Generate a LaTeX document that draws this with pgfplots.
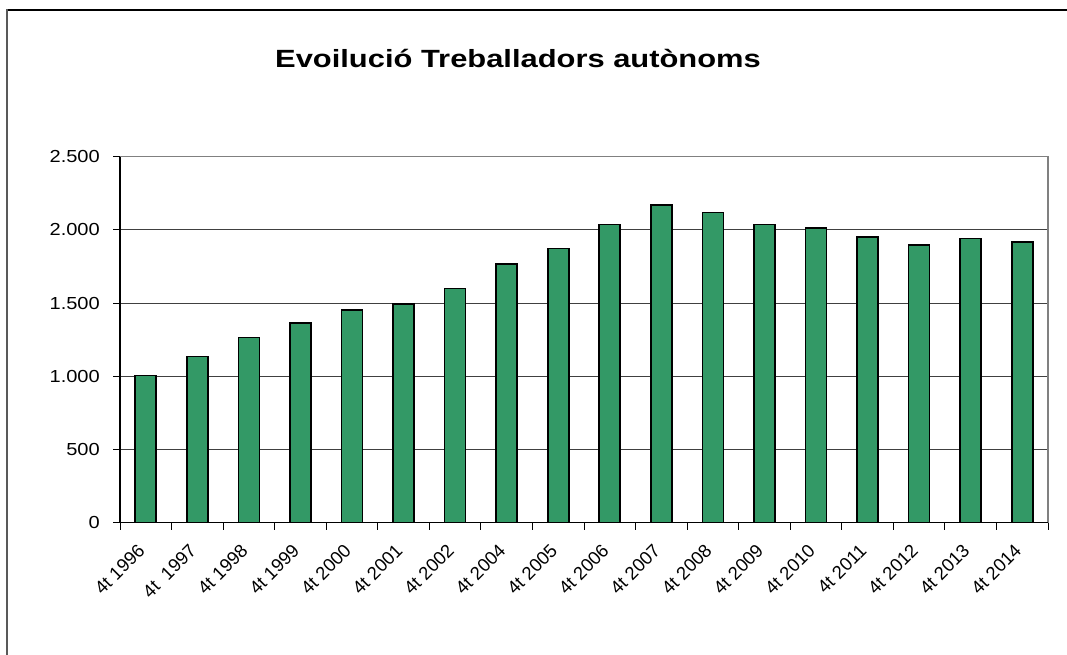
\documentclass[border=0pt]{standalone}
\usepackage{fontspec}
\setmainfont{Liberation Sans}
\newfontfamily\widefont{Liberation Sans}[FakeStretch=1.15]
\newfontfamily\titlefont{Liberation Sans}[FakeStretch=1.24]
\usepackage{pgfplots}
\pgfplotsset{compat=1.18}
\definecolor{barg}{HTML}{339966}
\begin{document}
\begin{tikzpicture}[x=1bp,y=1bp]
\path[use as bounding box] (0,0) rectangle (1067,655);
\draw[line width=1.3bp, black] (6.5,645) -- (1067,645);
\draw[line width=1.6bp, black!65] (7,645.6) -- (7,0);
\node[anchor=base, font=\titlefont\bfseries\fontsize{25}{30}\selectfont, inner sep=0pt] at (518,587) {Evoilució Treballadors autònoms};
\begin{axis}[
  at={(120bp,132.3bp)}, anchor=south west,
  scale only axis, width=928bp, height=366bp,
  xmin=-0.5, xmax=17.5, ymin=0, ymax=2500,
  ytick={0,500,...,2500},
  xtick={0,...,17},
  xticklabels={4t 1996,4t~~1997,4t 1998,4t 1999,4t 2000,4t 2001,4t 2002,4t 2004,4t 2005,4t 2006,4t 2007,4t 2008,4t 2009,4t 2010,4t 2011,4t 2012,4t 2013,4t 2014},
  minor xtick={-0.5,0.5,...,17.5},
  major x tick style={draw=none},
  minor tick length=7bp,
  major tick length=7bp,
  tick align=outside,
  xtick pos=bottom, ytick pos=left,
  tick style={black, line width=1bp},
  axis line style={draw=none},
  ymajorgrids,
  major grid style={black!75, line width=1bp},
  /pgf/number format/assume math mode=true,
  /pgf/number format/.cd, 1000 sep={.},
  /pgfplots/.cd,
  yticklabel style={font=\widefont\fontsize{17.5}{20}\selectfont, inner sep=0pt, xshift=-13bp},
  xticklabel shift=13bp,
  xticklabel style={font=\fontsize{18.5}{21}\selectfont, rotate=45, anchor=north east, inner sep=0pt, xshift=-6.4bp, yshift=6.4bp},
  clip=false,
]
\addplot[ybar, bar width=21bp, fill=barg, draw=black, line width=1.6bp] coordinates {
(0,1005) (1,1134) (2,1266) (3,1366) (4,1453) (5,1494) (6,1601) (7,1767) (8,1872)
(9,2038) (10,2170) (11,2120) (12,2038) (13,2013) (14,1951) (15,1897) (16,1942) (17,1917)};
\draw[black!50, line width=1.3bp] (rel axis cs:0,1) -- (rel axis cs:1,1) -- (rel axis cs:1,0);
\draw[black, line width=1.3bp] (rel axis cs:0,1) -- (rel axis cs:0,0) -- (rel axis cs:1,0);
\end{axis}
\end{tikzpicture}
\end{document}
